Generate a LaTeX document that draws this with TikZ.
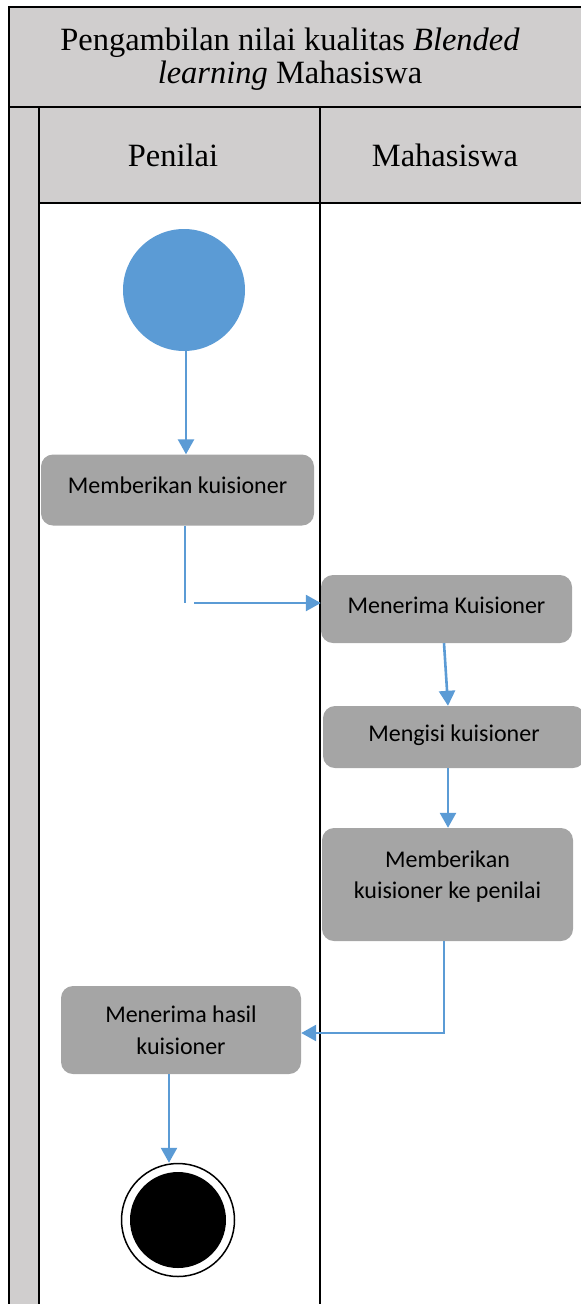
\documentclass[tikz,border=0pt]{standalone}
\usepackage{fontspec}
\setmainfont{Liberation Serif}
\newfontfamily\calibri{Carlito}
\usetikzlibrary{positioning,arrows.meta}
\definecolor{lanegray}{HTML}{D0CECE}
\definecolor{actgray}{HTML}{A5A5A5}
\definecolor{flowblue}{HTML}{5B9BD5}

\begin{document}
\begin{tikzpicture}[x=1pt, y=-1pt,
    act/.style={rectangle, rounded corners=12pt, fill=actgray, align=center,
        inner sep=0pt, font=\calibri\fontsize{24}{31.5}\selectfont},
    flow/.style={draw=flowblue, line width=2.6pt, -{Triangle[length=15pt,width=16pt]}},
    lane/.style={line width=2.2pt},
    head/.style={align=center, font=\fontsize{32.5}{33}\selectfont}]

    \useasboundingbox (0,0) rectangle (581,1304);

    % swimlane frame
    \fill[lanegray] (9,7) rectangle (581,203);
    \fill[lanegray] (9,203) rectangle (39,1304);
    \draw[lane] (9,1304) -- (9,7) -- (581,7);
    \draw[lane] (9,107) -- (581,107);
    \draw[lane] (39,203) -- (581,203);
    \draw[lane] (39,107) -- (39,1304);
    \draw[lane] (320,107) -- (320,1304);

    \node[head] (title) at (290,59) {Pengambilan nilai kualitas \textit{Blended}\\\textit{learning} Mahasiswa};
    \node[head] (penilai) at (173,155) {Penilai};
    \node[head] (mhs) at (445,155) {Mahasiswa};

    % activities
    \node[circle, fill=flowblue, minimum size=122pt] (start) at (184,290) {};
    \node[act, text depth=10pt, minimum width=273pt, minimum height=71pt] (beri) at (177.5,490) {Memberikan kuisioner};
    \node[act, text depth=8pt, minimum width=251pt, minimum height=68pt] (terima) at (446.5,609) {Menerima Kuisioner};
    \node[act, text depth=8pt, minimum width=262pt, minimum height=62pt] (isi) at (454,737) {Mengisi kuisioner};
    \node[act, text depth=20pt, minimum width=251pt, minimum height=113pt] (kirim) at (447.5,884.5) {Memberikan\\kuisioner ke penilai};
    \node[act, minimum width=240pt, minimum height=88pt] (hasil) at (181,1030) {Menerima hasil\\kuisioner};
    \node[circle, draw, line width=1.5pt, fill=white, minimum size=113pt] (end) at (178,1220) {};
    \node[circle, fill=black, minimum size=96pt] (endin) at (end) {};

    \coordinate (bend) at (185,603);
    \coordinate (gap) at (194,603);

    % flows
    \draw[flow] ([xshift=2pt]start.south) -- ([xshift=2pt]start.south |- beri.north);
    \draw[draw=flowblue, line width=1.4pt] ([xshift=7.5pt]beri.south) -- (bend);
    \draw[flow] (gap) -- (gap -| terima.west);
    \draw[flow] ([xshift=-2.5pt]terima.south) -- ([xshift=-6pt]isi.north);
    \draw[flow] ([xshift=-6pt]isi.south) -- ([xshift=-6pt]isi.south |- kirim.north);
    \draw[flow] ([xshift=-3.5pt]kirim.south) |- ([yshift=-3pt]hasil.east);
    \draw[flow] ([xshift=-12pt]hasil.south) -- ([xshift=-12pt]hasil.south |- end.north);

\end{tikzpicture}
\end{document}
